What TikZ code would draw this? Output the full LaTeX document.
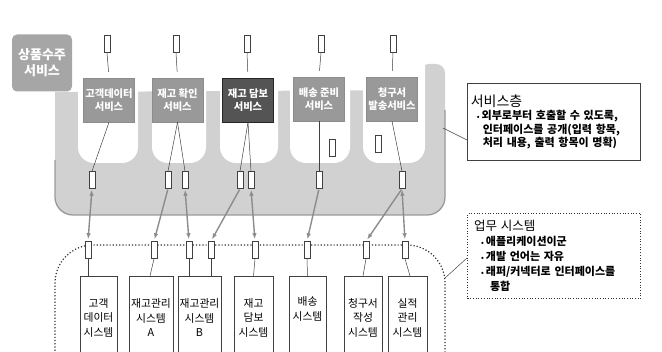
\documentclass[tikz,border=0pt]{standalone}
\usepackage{fontspec}
\setmainfont{Noto Sans CJK KR}
\usetikzlibrary{arrows.meta,calc}
\newcommand{\smallbul}{{\fontsize{7}{8}\selectfont•}}
\begin{document}
\begin{tikzpicture}[x=1pt,y=-1pt,
  port/.style={draw=black!75, fill=white, line width=0.5pt, minimum width=6pt, minimum height=17pt, inner sep=0pt},
  svc/.style={fill=black!40, draw=black!45, text=white, minimum width=51pt, minimum height=44pt, inner sep=0pt, align=center, font=\fontsize{10.3}{13.5}\selectfont\bfseries},
  svcdark/.style={svc, fill=black!67, draw=black!85},
  sysbox/.style={draw=black!75, line width=0.5pt, fill=white, minimum height=83pt, inner sep=0pt, align=center, anchor=north, font=\fontsize{10.8}{14.5}\selectfont},
  wire/.style={draw=black!75, line width=0.5pt},
  lnk/.style={draw=black!45, line width=1.4pt, shorten <=1pt, shorten >=2pt, -{Latex[length=6pt,width=4.5pt]}},
  lnktwo/.style={lnk, {Latex[length=6pt,width=4.5pt]}-{Latex[length=6pt,width=4.5pt]}},
  layer/.style={fill=black!18},
  note/.style={draw=black!75, line width=0.7pt, fill=white, anchor=north west, text width=166pt, align=left, inner xsep=3.5pt, inner ysep=3pt}
]
\useasboundingbox (0,0) rectangle (662,352);

% service layer background
\fill[layer] (55,92) [rounded corners=18pt] -- (55,215) -- (445,215) [rounded corners=9pt] -- (445,64) -- (420,64) [sharp corners] -- (420,90) -- cycle;
\foreach \a/\b in {78/138,152/206,220/278,290/350,363/425}{
  \fill[white, rounded corners=16pt] (\a,30) rectangle (\b,163);
}
\draw[black!40, line width=1.3pt, rounded corners=18pt] (55,160) -- (55,215) -- (445,215) -- (445,110);

% business layer boundary
\draw[black!80, dotted, line width=1.2pt, rounded corners=38pt] (55,370) -- (55,245) -- (445,245) -- (445,370);

% label
\node[fill=black!35, rounded corners=5pt, minimum width=60pt, minimum height=57pt, text=white, align=center, font=\fontsize{13}{16}\selectfont\bfseries] (order) at (42,63) {상품수주\\서비스};

% top ports
\node[port] (t1) at (107,44) {};
\node[port] (t2) at (176,44) {};
\node[port] (t3) at (247,44) {};
\node[port] (t4) at (321,44) {};
\node[port] (t5) at (393,44) {};

% services
\node[svc] (s1) at (109,100) {고객데이터\\서비스};
\node[svc] (s2) at (177.5,100) {재고 확인\\서비스};
\node[svcdark] (s3) at (248,100) {재고 담보\\서비스};
\node[svc] (s4) at (319,99) {배송 준비\\서비스};
\node[svc] (s5) at (392,99) {청구서\\발송서비스};

\foreach \i in {1,...,5}{ \draw[wire, shorten >=6pt] (t\i.south) -- (s\i.north); }

% extra ports inside pockets
\node[port] (x1) at (332,148) {};
\node[port] (x2) at (378,144) {};

% lower service ports
\node[port] (p1) at (92,180) {};
\node[port] (p2) at (168,180) {};
\node[port] (p3) at (185,180) {};
\node[port] (p4) at (240,180) {};
\node[port] (p5) at (251,180) {};
\node[port] (p6) at (319,180) {};
\node[port] (p7) at (402,180) {};

\draw[wire] (s1.south) -- (p1.north);
\draw[wire] (s2.south) -- (p2.north);
\draw[wire] (s2.south) -- (p3.north);
\draw[wire] (s3.south) -- (p4.north);
\draw[wire] (s3.south) -- (p5.north);
\draw[wire] (s4.south) -- (p6.north);
\draw[wire] (s5.south) -- (p7.north);

% business ports
\node[port] (q1) at (88,250) {};
\node[port] (q2) at (154,250) {};
\node[port] (q3) at (189,250) {};
\node[port] (q4) at (211,250) {};
\node[port] (q5) at (255,250) {};
\node[port] (q6) at (307,250) {};
\node[port] (q7) at (366,250) {};
\node[port] (q8) at (405,250) {};

% arrows
\draw[lnktwo] (p1.south) -- (q1.north);
\draw[lnk] (p2.south) -- (q2.north);
\draw[lnktwo] (p3.south) -- (q3.north);
\draw[lnk] (p4.south) -- (q4.north);
\draw[lnktwo] (p5.south) -- (q5.north);
\draw[lnk] (p6.south) -- (q6.north);
\draw[lnk] (p7.south) -- (q7.north);
\draw[lnktwo] (p7.south) -- (q8.north);

% systems
\node[sysbox, minimum width=37pt] (y1) at (98.5,276) {고객\\데이터\\시스템};
\node[sysbox, minimum width=44pt] (y2) at (151,276) {재고관리\\시스템\\A};
\node[sysbox, minimum width=43pt] (y3) at (199.5,276) {재고관리\\시스템\\B};
\node[sysbox, minimum width=39pt] (y4) at (253.5,276) {재고\\담보\\시스템};
\node[sysbox, minimum width=37pt] (y5) at (307.5,276) {배송\\시스템\\\strut};
\node[sysbox, minimum width=38pt] (y6) at (363,276) {청구서\\작성\\시스템};
\node[sysbox, minimum width=39pt] (y7) at (407.5,276) {실적\\관리\\시스템};

\draw[wire] (q1.south) -- (q1.south |- y1.north);
\draw[wire] (q2.south) -- ([xshift=-1pt]y2.north);
\draw[wire] (q3.south) -- (q3.south |- y3.north);
\draw[wire] (q4.south) -- (q4.south |- y3.north);
\draw[wire] (q5.south) -- (y4.north);
\draw[wire] (q6.south) -- (y5.north);
\draw[wire] (q7.south) -- (y6.north);
\draw[wire] (q8.south) -- ([xshift=2.5pt]y7.north);

% callouts
\node[note, minimum height=77pt, font=\fontsize{11}{13.5}\selectfont\bfseries] (svcnote) at (467,83) {%
  {\fontsize{14}{17}\selectfont\mdseries 서비스층}\\
  \hspace*{6pt}\smallbul\hspace*{2pt}외부로부터 호출할 수 있도록,\\
  \hspace*{12pt}인터페이스를 공개(입력 항목,\\
  \hspace*{12pt}처리 내용, 출력 항목이 명확)};
\coordinate (svcedge) at (443,128);
\draw[wire] (svcedge) -- ($(svcnote.north west)+(0,57)$);

\node[note, dotted, line width=1.2pt, draw=black!80, minimum height=85pt, font=\fontsize{11}{15}\selectfont\bfseries] (biznote) at (467,213) {%
  {\fontsize{12.5}{15}\selectfont\mdseries\hspace*{3pt}업무 시스템}\\
  \hspace*{10pt}\smallbul\hspace*{2pt}애플리케이션이군\\
  \hspace*{10pt}\smallbul\hspace*{2pt}개발 언어는 자유\\
  \hspace*{10pt}\smallbul\hspace*{2pt}래퍼/커넥터로 인터페이스를\\
  \hspace*{19pt}통합};
\coordinate (bizedge) at (445,278);
\draw[wire] (bizedge) -- ($(biznote.north west)+(0,45)$);
\end{tikzpicture}
\end{document}
